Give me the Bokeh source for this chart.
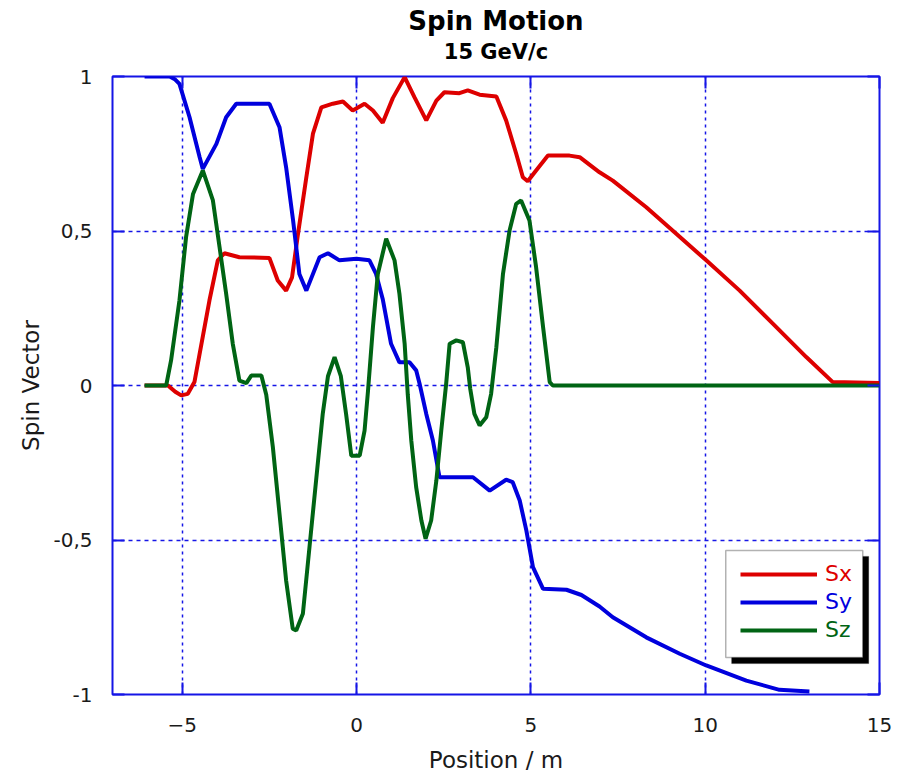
from bokeh.plotting import figure
from bokeh.models import (FixedTicker, LinearAxis, Title, Legend, LegendItem,
                          BoxAnnotation, Range1d)
from bokeh.embed import file_html
from bokeh.resources import INLINE

# ---------------- data ----------------
sx_pos = [-6.08, -5.41, -5.2, -5.03, -4.84, -4.65, -4.5, -4.22, -3.98, -3.79, -3.36,
          -2.50, -2.26, -2.02, -1.85, -1.68, -1.44, -1.25, -1.01, -0.68, -0.39, -0.11,
          0.23, 0.47, 0.75, 1.04, 1.38, 1.66, 2.0, 2.29, 2.52, 2.95, 3.19, 3.53, 4.01,
          4.29, 4.58, 4.77, 4.91, 5.15, 5.49, 6.11, 6.40, 6.97, 7.35, 8.31, 9.17, 10.03,
          10.99, 11.94, 12.90, 13.66, 15.0]
sx_val = [0.0, 0.0, -0.02, -0.032, -0.027, 0.011, 0.103, 0.275, 0.405, 0.428, 0.415,
          0.413, 0.34, 0.307, 0.35, 0.49, 0.674, 0.815, 0.90, 0.912, 0.919, 0.89,
          0.912, 0.89, 0.85, 0.93, 0.998, 0.933, 0.858, 0.922, 0.949, 0.946, 0.955, 0.941, 0.935,
          0.858, 0.75, 0.674, 0.661, 0.696, 0.744, 0.744, 0.739, 0.69, 0.663, 0.577, 0.491, 0.405,
          0.307, 0.20, 0.092, 0.011, 0.008]

sy_pos = [-6.08, -5.36, -5.2, -5.08, -4.79, -4.50, -4.41, -4.02, -3.74, -3.45, -2.50,
          -2.21, -2.02, -1.82, -1.64, -1.44, -1.06, -0.82, -0.49, 0.0, 0.37, 0.56, 0.75,
          0.99, 1.23, 1.52, 1.71, 1.81, 2.0, 2.19, 2.38, 3.34, 3.82, 4.29, 4.48, 4.68,
          4.87, 5.06, 5.35, 6.02, 6.45, 6.97, 7.35, 8.31, 9.27, 10.03, 11.18, 12.13, 12.99]
sy_val = [1.0, 1.0, 0.99, 0.976, 0.868, 0.739, 0.701, 0.782, 0.868, 0.912, 0.912,
          0.836, 0.706, 0.534, 0.361, 0.307, 0.415, 0.428, 0.405, 0.41, 0.405, 0.361, 0.28,
          0.135, 0.075, 0.075, 0.049, 0.005, -0.092, -0.178, -0.297, -0.297, -0.34, -0.305, -0.313, -0.372,
          -0.469, -0.588, -0.658, -0.661, -0.678, -0.715, -0.75, -0.815, -0.868, -0.906, -0.955, -0.985, -0.99]

sz_pos = [-6.08, -5.46, -5.32, -5.08, -4.89, -4.69, -4.41, -4.12, -3.93, -3.74, -3.55,
          -3.36, -3.16, -3.02, -2.73, -2.59, -2.40, -2.21, -2.02, -1.83, -1.73, -1.54,
          -1.35, -1.16, -0.97, -0.82, -0.63, -0.45, -0.30, -0.15, 0.09, 0.23, 0.33, 0.47,
          0.61, 0.85, 1.09, 1.23, 1.38, 1.47, 1.57, 1.71, 1.86, 1.98, 2.14, 2.29, 2.43,
          2.57, 2.67, 2.86, 3.05, 3.19, 3.26, 3.38, 3.53, 3.72, 3.86, 4.01, 4.20, 4.39,
          4.58, 4.72, 4.96, 5.15, 5.35, 5.54, 5.63, 15.0]
sz_val = [0.0, 0.0, 0.081, 0.275, 0.48, 0.62, 0.696, 0.599, 0.448, 0.297, 0.135,
          0.016, 0.008, 0.032, 0.032, -0.03, -0.20, -0.415, -0.631, -0.787, -0.793, -0.739,
          -0.523, -0.307, -0.092, 0.03, 0.092, 0.03, -0.092, -0.227, -0.227, -0.146, -0.016, 0.189,
          0.361, 0.475, 0.405, 0.297, 0.135, -0.03, -0.178, -0.329, -0.437, -0.496, -0.437, -0.307, -0.146,
          0.005, 0.135, 0.146, 0.14, 0.059, -0.01, -0.092, -0.129, -0.103, -0.027, 0.124, 0.361, 0.502,
          0.588, 0.599, 0.534, 0.383, 0.189, 0.011, 0.0, 0.0]

series_names = ["Sx", "Sy", "Sz"]
series_colors = ["#dd0000", "#0000dd", "#006414"]

x_ticks = [-5, 0, 5, 10, 15]
y_ticks = [-1, -0.5, 0, 0.5, 1]
y_tick_labels = ["-1", "-0,5", "0", "0,5", "1"]

title_text = "Spin Motion"
subtitle_text = "15 GeV/c"
x_label = "Position / m"
y_label = "Spin Vector"

# ---------------- styling ----------------
FRAME = "#1515e6"
TXT = "#1a1a1a"
FONT = "DejaVu Sans"

p = figure(width=908, height=775, output_backend="svg", toolbar_location=None,
           title=None, x_range=Range1d(-7, 15), y_range=Range1d(-1, 1),
           min_border_left=112, min_border_right=29, min_border_top=76,
           min_border_bottom=81, background_fill_color="white",
           border_fill_color="white")

p.outline_line_color = FRAME
p.outline_line_width = 2

# main axes
for ax in (p.xaxis[0], p.yaxis[0]):
    ax.axis_line_color = None
    ax.major_tick_in = 12
    ax.major_tick_out = 0
    ax.major_tick_line_color = FRAME
    ax.major_tick_line_width = 2
    ax.minor_tick_line_color = None
    ax.major_label_text_font = FONT
    ax.major_label_text_font_size = "20px"
    ax.major_label_text_color = TXT
    ax.axis_label_text_font = FONT
    ax.axis_label_text_font_size = "23px"
    ax.axis_label_text_font_style = "normal"
    ax.axis_label_text_color = TXT

p.xaxis[0].ticker = FixedTicker(ticks=x_ticks)
p.yaxis[0].ticker = FixedTicker(ticks=y_ticks)
p.yaxis[0].major_label_overrides = {t: s for t, s in zip(y_ticks, y_tick_labels)}
p.xaxis[0].axis_label = x_label
p.yaxis[0].axis_label = y_label
p.xaxis[0].major_label_standoff = 23
p.xaxis[0].axis_label_standoff = 12
p.yaxis[0].major_label_standoff = 20
p.yaxis[0].axis_label_standoff = 6

# tick-only axes on top and right (labels not drawn)
for loc, ticks in (("above", x_ticks), ("right", y_ticks)):
    ax = LinearAxis(ticker=FixedTicker(ticks=ticks))
    ax.axis_line_color = None
    ax.major_tick_in = 12
    ax.major_tick_out = 0
    ax.major_tick_line_color = FRAME
    ax.major_tick_line_width = 2
    ax.minor_tick_line_color = None
    ax.major_label_text_color = None
    ax.major_label_text_font_size = "1px"
    ax.major_label_standoff = 0
    p.add_layout(ax, loc)

# grid
p.xgrid.ticker = FixedTicker(ticks=x_ticks)
p.ygrid.ticker = FixedTicker(ticks=y_ticks)
p.xgrid.grid_line_color = FRAME
p.ygrid.grid_line_color = FRAME
p.xgrid.grid_line_width = 1.5
p.ygrid.grid_line_width = 1.5
p.xgrid.grid_line_dash = "3 4"
p.ygrid.grid_line_dash = "4 4"

# titles
p.add_layout(Title(text=subtitle_text, align="center", text_font=FONT,
                   text_font_size="21px", text_font_style="bold",
                   text_color="black", standoff=25), "above")
p.add_layout(Title(text=title_text, align="center", text_font=FONT,
                   text_font_size="26px", text_font_style="bold",
                   text_color="black", standoff=-20), "above")

# curves
renderers = []
for xs, ys, c in zip((sx_pos, sy_pos, sz_pos), (sx_val, sy_val, sz_val), series_colors):
    renderers.append(p.line(xs, ys, line_color=c, line_width=4))

# legend box with shadow
shadow = BoxAnnotation(left=10.76, right=14.69, top=-0.553, bottom=-0.900,
                       fill_color="black", fill_alpha=1.0, line_color="black")
box = BoxAnnotation(left=10.59, right=14.52, top=-0.534, bottom=-0.880,
                    fill_color="white", fill_alpha=1.0, line_color="black", line_width=1.5)
p.add_layout(shadow)
p.add_layout(box)

offsets = [108, 80, 52]
for name, r, c, oy in zip(series_names, renderers, series_colors, offsets):
    lg = Legend(items=[LegendItem(label=name, renderers=[r])], location=(628, oy),
                padding=0, margin=0, spacing=0, border_line_color=None,
                background_fill_alpha=0.0, glyph_width=77, glyph_height=20,
                label_height=20, label_standoff=8, label_text_font=FONT,
                label_text_font_size="22px", label_text_color=c)
    p.add_layout(lg, "center")

open("out.html", "w").write(file_html(p, INLINE))
